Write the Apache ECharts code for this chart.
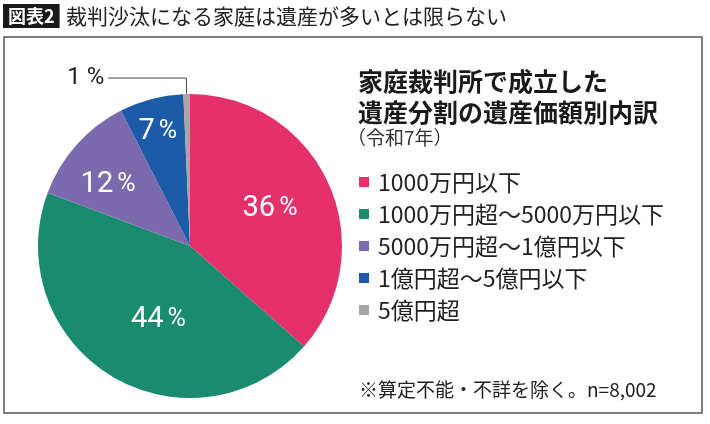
<!DOCTYPE html>
<html>
<head>
<meta charset="utf-8">
<script src="https://cdn.jsdelivr.net/npm/echarts@6/dist/echarts.min.js"></script>
<style>
  html, body { margin: 0; padding: 0; background: #fff; }
  #main { width: 710px; height: 424px; }
</style>
</head>
<body>
<div id="main"></div>
<script>
// data
var categories = ['1000万円以下', '1000万円超～5000万円以下', '5000万円超～1億円以下', '1億円超～5億円以下', '5億円超'];
var shares = [36.5, 44.2, 11.8, 6.8, 0.7];
var shareLabels = ['36', '44', '12', '7', '1'];
var colors = ['#e4316b', '#1b8b6f', '#7b6bae', '#1c5ba8', '#a6a6a6'];
// nudges for the inside labels (px), last one sits outside
var labelShift = [[8, -5], [9, 6], [-23, -9], [-12, -38], [0, 0]];

var cjk = '"Noto Sans CJK JP", "Noto Sans", sans-serif';
var narrow = '"Roboto", "Noto Sans", sans-serif';

var chartDom = document.getElementById('main');
var myChart = echarts.init(chartDom);
var option;

var pieData = [];
for (var i = 0; i < categories.length; i++) {
  var ele = {
    name: categories[i],
    value: shares[i],
    itemStyle: { color: colors[i] }
  };
  if (i === categories.length - 1) {
    ele.label = {
      position: 'outside',
      formatter: shareLabels[i] + ' %',
      color: '#222',
      fontSize: 24,
      fontFamily: '"Roboto", sans-serif',
      distanceToLabelLine: 4
    };
    ele.labelLine = {
      show: true,
      length: 16,
      length2: 78,
      lineStyle: { color: '#444', width: 1 }
    };
  }
  pieData.push(ele);
}

option = {
  backgroundColor: '#fff',
  animation: false,
  title: [
    {
      text: '図表2',
      left: 3,
      top: 4,
      padding: [1, 5, 1, 5],
      backgroundColor: '#1a1a1a',
      textStyle: { color: '#fff', fontSize: 18, fontWeight: 'bold', fontFamily: cjk, lineHeight: 22 }
    },
    {
      text: '裁判沙汰になる家庭は遺産が多いとは限らない',
      left: 66,
      top: 1,
      padding: 0,
      textStyle: { color: '#222', fontSize: 21, fontWeight: 'normal', fontFamily: cjk, lineHeight: 30 }
    },
    {
      text: '家庭裁判所で成立した\n遺産分割の遺産価額別内訳',
      left: 358,
      top: 66,
      padding: 0,
      textStyle: { color: '#1a1a1a', fontSize: 25, fontWeight: 'bold', fontFamily: cjk, lineHeight: 31 }
    },
    {
      text: '（令和7年）',
      left: 347,
      top: 126,
      padding: 0,
      textStyle: { color: '#333', fontSize: 19, fontWeight: 'normal', fontFamily: cjk, lineHeight: 24 }
    },
    {
      text: '※算定不能・不詳を除く。n=8,002',
      left: 359,
      top: 377,
      padding: 0,
      textStyle: { color: '#222', fontSize: 19, fontWeight: 'normal', fontFamily: cjk, lineHeight: 26 }
    }
  ],
  legend: {
    orient: 'vertical',
    left: 359,
    top: 170,
    padding: 0,
    icon: 'rect',
    itemWidth: 10,
    itemHeight: 10,
    itemGap: 8,
    selectedMode: false,
    textStyle: { color: '#222', fontSize: 23, fontFamily: cjk, lineHeight: 24, padding: [0, 0, 0, 4] },
    data: categories
  },
  graphic: [
    {
      type: 'rect',
      shape: { x: 4, y: 37, width: 698, height: 376 },
      style: { fill: 'none', stroke: '#555', lineWidth: 1.5 },
      silent: true
    }
  ],
  series: [
    {
      type: 'pie',
      center: [190, 246],
      radius: 152,
      startAngle: 90,
      clockwise: true,
      avoidLabelOverlap: false,
      silent: true,
      label: {
        show: true,
        position: 'inside',
        formatter: function (p) {
          return '{n|' + shareLabels[p.dataIndex] + '}{p|%}';
        },
        rich: {
          n: { color: '#fff', fontSize: 29, fontFamily: narrow, padding: [0, 4, 0, 0] },
          p: { color: '#fff', fontSize: 25, fontFamily: narrow }
        }
      },
      labelLine: { show: false },
      labelLayout: function (params) {
        var s = labelShift[params.dataIndex];
        return { dx: s[0], dy: s[1] };
      },
      data: pieData
    }
  ]
};

option && myChart.setOption(option);
</script>
</body>
</html>
